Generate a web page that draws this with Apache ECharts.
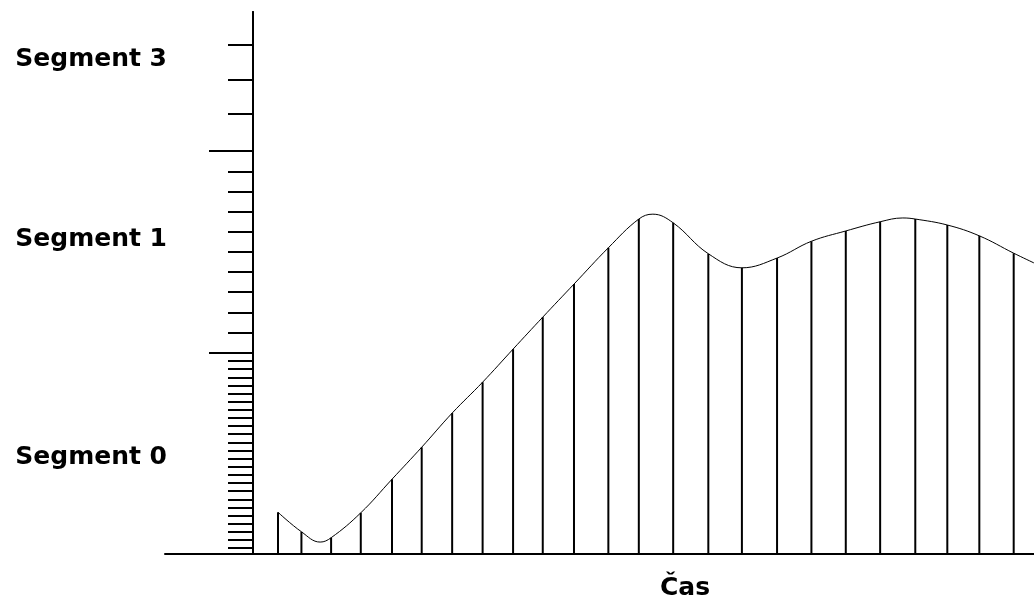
<!DOCTYPE html>
<html>
<head>
<meta charset="utf-8">
<script src="https://cdn.jsdelivr.net/npm/echarts@6/dist/echarts.min.js"></script>
<style>
  html, body { margin: 0; padding: 0; background: #ffffff; }
  #chart { width: 1034px; height: 601px; }
</style>
</head>
<body>
<div id="chart"></div>
<script>
// ---- data (time units along x, level units along y) ----
const barTimes  = [3.2, 6.2, 10.0, 13.8, 17.8, 21.6, 25.5, 29.4, 33.3, 37.1, 41.1, 45.5, 49.4, 53.8, 58.3, 62.6, 67.1, 71.5, 75.9, 80.3, 84.8, 88.9, 93.0, 97.4];
const barValues = [7.7, 4.1, 3.0, 7.6, 13.8, 19.7, 26.0, 31.7, 37.8, 43.7, 49.8, 56.5, 61.8, 61.1, 55.4, 52.8, 54.6, 57.7, 59.6, 61.3, 61.8, 60.7, 58.7, 55.5];

const curveTimes  = [3.2, 6.2, 8.6, 10.0, 13.8, 17.8, 21.6, 25.5, 29.4, 33.3, 37.1, 41.1, 45.5, 49.4, 51.2, 53.8, 58.3, 62.6, 67.1, 71.5, 75.9, 80.3, 83.2, 84.8, 88.9, 93.0, 97.4, 100];
const curveValues = [7.7, 4.1, 2.2, 3.0, 7.6, 13.8, 19.7, 26.0, 31.7, 37.8, 43.7, 49.8, 56.5, 61.8, 62.7, 61.1, 55.4, 52.8, 54.6, 57.7, 59.6, 61.3, 62.0, 61.8, 60.7, 58.7, 55.5, 53.7];

// y-axis segments
const segmentLabels    = ['Segment 0', 'Segment 1', 'Segment 3'];
const segmentLabelPos  = [17.8, 58.0, 91.2];
const segmentMajorTicks = [37.1, 74.4];
const segment0Ticks = [1.1, 2.6, 4.1, 5.6, 7.1, 8.6, 10.1, 11.6, 13.1, 14.6, 16.1, 17.6, 19.1, 20.6, 22.1, 23.6, 25.1, 26.6, 28.1, 29.6, 31.1, 32.6, 34.1, 35.6, 37.1];
const segment1Ticks = [40.8, 44.6, 48.3, 52.0, 55.7, 59.5, 63.2, 66.9, 70.6, 74.4];
const segment3Ticks = [81.2, 87.5, 93.9];

const xAxisName = 'Čas';

const FONT = 'DejaVu Sans';
const minorTicks = segment0Ticks.concat(segment1Ticks, segment3Ticks);

const chart = echarts.init(document.getElementById('chart'), null, { renderer: 'canvas' });

chart.setOption({
  animation: false,
  backgroundColor: '#ffffff',
  grid: [
    { left: 253, right: 0, top: 12, bottom: 47, containLabel: false, outerBoundsMode: 'none' },
    { left: 165, right: 0, top: 12, bottom: 47, containLabel: false, outerBoundsMode: 'none' }
  ],
  xAxis: [
    {
      type: 'value',
      gridIndex: 0,
      min: 0,
      max: 100,
      name: xAxisName,
      nameLocation: 'middle',
      nameGap: 22,
      nameTextStyle: { fontFamily: FONT, fontWeight: 'bold', fontSize: 25, color: '#000', padding: [0, 0, 0, 83] },
      axisLine: { onZero: false, lineStyle: { color: '#000', width: 2 } },
      axisTick: { show: false },
      axisLabel: { show: false },
      splitLine: { show: false }
    },
    {
      type: 'value',
      gridIndex: 1,
      min: 0,
      max: 1,
      axisLine: { onZero: false, lineStyle: { color: '#000', width: 2 } },
      axisTick: { show: false },
      axisLabel: { show: false },
      splitLine: { show: false }
    }
  ],
  yAxis: [
    {
      type: 'value',
      gridIndex: 0,
      position: 'left',
      min: 0,
      max: 100,
      axisLine: { show: true, onZero: false, lineStyle: { color: '#000', width: 2 } },
      axisTick: { show: true, inside: false, length: 25, customValues: minorTicks, lineStyle: { color: '#000', width: 2 } },
      axisLabel: {
        show: true,
        margin: 86,
        customValues: segmentLabelPos,
        fontFamily: FONT, fontWeight: 'bold', fontSize: 25, color: '#000',
        formatter: function (v) {
          let best = 0;
          for (let i = 1; i < segmentLabelPos.length; i++) {
            if (Math.abs(segmentLabelPos[i] - v) < Math.abs(segmentLabelPos[best] - v)) best = i;
          }
          return segmentLabels[best];
        }
      },
      splitLine: { show: false }
    },
    {
      type: 'value',
      gridIndex: 0,
      position: 'left',
      min: 0,
      max: 100,
      axisLine: { show: true, onZero: false, lineStyle: { color: '#000', width: 2 } },
      axisTick: { show: true, inside: false, length: 44, customValues: segmentMajorTicks, lineStyle: { color: '#000', width: 2 } },
      axisLabel: { show: false },
      splitLine: { show: false }
    },
    {
      type: 'value',
      gridIndex: 1,
      min: 0,
      max: 1,
      show: false
    }
  ],
  series: [
    {
      type: 'bar',
      xAxisIndex: 0,
      yAxisIndex: 0,
      data: barTimes.map((t, i) => [t, barValues[i]]),
      barWidth: 2,
      itemStyle: { color: '#000' },
      silent: true
    },
    {
      type: 'line',
      xAxisIndex: 0,
      yAxisIndex: 0,
      data: curveTimes.map((t, i) => [t, curveValues[i]]),
      smooth: 0.4,
      showSymbol: false,
      lineStyle: { color: '#000', width: 1 },
      silent: true
    }
  ]
});
</script>
</body>
</html>
